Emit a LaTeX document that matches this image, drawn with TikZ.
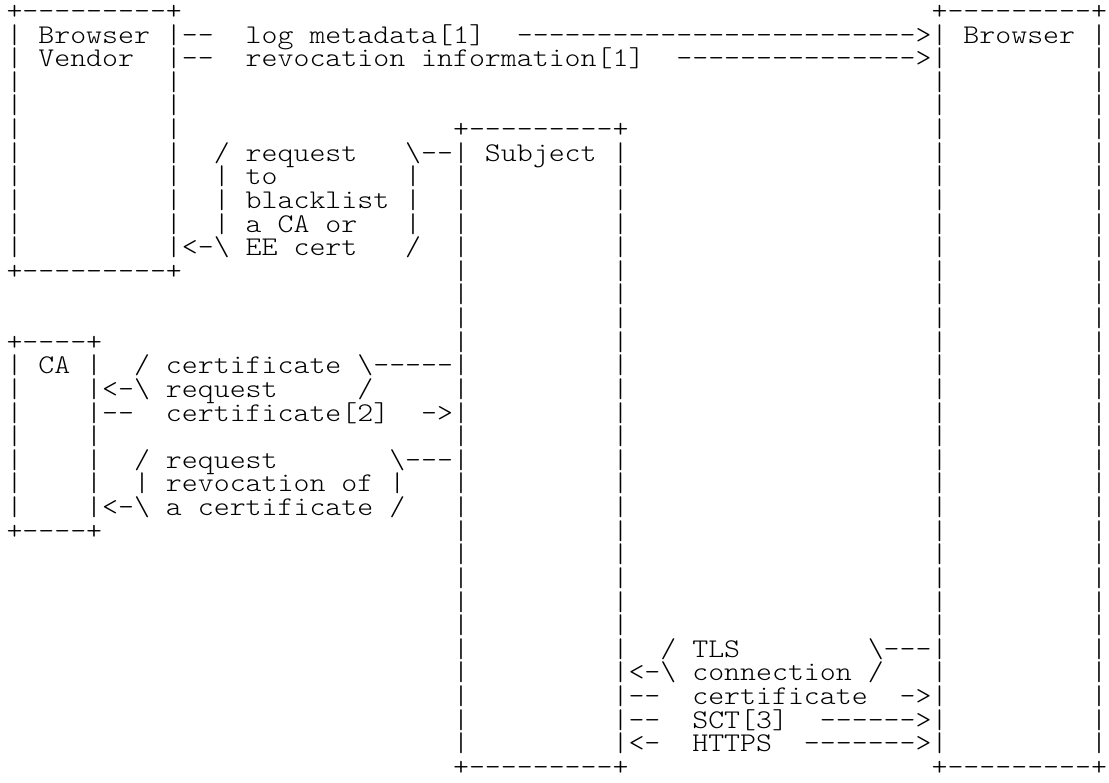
\documentclass[tikz,border=0pt]{standalone}
\usepackage{graphicx}
\usepackage{fontspec}
\newfontfamily\ascfont{lmmonolt10-regular}[Extension=.otf]
\ExplSyntaxOn
\cs_new:Npn \dashc #1 { \prg_replicate:nn {#1} { -\kern0pt } }
\ExplSyntaxOff
\newcommand\gapc[1]{\kern\dimexpr\fontcharwd\font`\x*#1\relax}
\newcommand\bslc{\textbackslash}
\newcommand\asctext[1]{\sbox0{x}\pgfmathsetmacro\ascsc{15.95/\the\wd0}\scalebox{\ascsc}[1]{#1}}
\tikzset{
  asc/.style={anchor=base west, inner sep=0pt, outer sep=0pt,
    font=\ascfont\fontsize{27}{27}\selectfont, text=black}
}
\begin{document}
\begin{tikzpicture}[x=1pt,y=1pt]
\useasboundingbox (0,0) rectangle (1109,-783);
\fill[white] (0,0) rectangle (1109,-783);
\def\xo{6.5}
\def\yo{19.5}
\def\dy{23.62}
\node[asc] (row0) at (\xo,-\yo-\dy*0) {\asctext{+\dashc{9}+\gapc{47}+\dashc{9}+}};
\node[asc] (row1) at (\xo,-\yo-\dy*1) {\asctext{|\gapc{1}Browser\gapc{1}|\dashc{2}\gapc{2}log\gapc{1}metadata[1]\gapc{2}\dashc{25}>|\gapc{1}Browser\gapc{1}|}};
\node[asc] (row2) at (\xo,-\yo-\dy*2) {\asctext{|\gapc{1}Vendor\gapc{2}|\dashc{2}\gapc{2}revocation\gapc{1}information[1]\gapc{2}\dashc{15}>|\gapc{9}|}};
\node[asc] (row3) at (\xo,-\yo-\dy*3) {\asctext{|\gapc{9}|\gapc{47}|\gapc{9}|}};
\node[asc] (row4) at (\xo,-\yo-\dy*4) {\asctext{|\gapc{9}|\gapc{47}|\gapc{9}|}};
\node[asc] (row5) at (\xo,-\yo-\dy*5) {\asctext{|\gapc{9}|\gapc{17}+\dashc{9}+\gapc{19}|\gapc{9}|}};
\node[asc] (row6) at (\xo,-\yo-\dy*6) {\asctext{|\gapc{9}|\gapc{2}/\gapc{1}request\gapc{3}\bslc\dashc{2}|\gapc{1}Subject\gapc{1}|\gapc{19}|\gapc{9}|}};
\node[asc] (row7) at (\xo,-\yo-\dy*7) {\asctext{|\gapc{9}|\gapc{2}|\gapc{1}to\gapc{8}|\gapc{2}|\gapc{9}|\gapc{19}|\gapc{9}|}};
\node[asc] (row8) at (\xo,-\yo-\dy*8) {\asctext{|\gapc{9}|\gapc{2}|\gapc{1}blacklist\gapc{1}|\gapc{2}|\gapc{9}|\gapc{19}|\gapc{9}|}};
\node[asc] (row9) at (\xo,-\yo-\dy*9) {\asctext{|\gapc{9}|\gapc{2}|\gapc{1}a\gapc{1}CA\gapc{1}or\gapc{3}|\gapc{2}|\gapc{9}|\gapc{19}|\gapc{9}|}};
\node[asc] (row10) at (\xo,-\yo-\dy*10) {\asctext{|\gapc{9}|<-\bslc\gapc{1}EE\gapc{1}cert\gapc{3}/\gapc{2}|\gapc{9}|\gapc{19}|\gapc{9}|}};
\node[asc] (row11) at (\xo,-\yo-\dy*11) {\asctext{+\dashc{9}+\gapc{17}|\gapc{9}|\gapc{19}|\gapc{9}|}};
\node[asc] (row12) at (\xo,-\yo-\dy*12) {\asctext{\gapc{28}|\gapc{9}|\gapc{19}|\gapc{9}|}};
\node[asc] (row13) at (\xo,-\yo-\dy*13) {\asctext{\gapc{28}|\gapc{9}|\gapc{19}|\gapc{9}|}};
\node[asc] (row14) at (\xo,-\yo-\dy*14) {\asctext{+\dashc{4}+\gapc{22}|\gapc{9}|\gapc{19}|\gapc{9}|}};
\node[asc] (row15) at (\xo,-\yo-\dy*15) {\asctext{|\gapc{1}CA\gapc{1}|\gapc{2}/\gapc{1}certificate\gapc{1}\bslc\dashc{5}|\gapc{9}|\gapc{19}|\gapc{9}|}};
\node[asc] (row16) at (\xo,-\yo-\dy*16) {\asctext{|\gapc{4}|<-\bslc\gapc{1}request\gapc{5}/\gapc{5}|\gapc{9}|\gapc{19}|\gapc{9}|}};
\node[asc] (row17) at (\xo,-\yo-\dy*17) {\asctext{|\gapc{4}|\dashc{2}\gapc{2}certificate[2]\gapc{2}->|\gapc{9}|\gapc{19}|\gapc{9}|}};
\node[asc] (row18) at (\xo,-\yo-\dy*18) {\asctext{|\gapc{4}|\gapc{22}|\gapc{9}|\gapc{19}|\gapc{9}|}};
\node[asc] (row19) at (\xo,-\yo-\dy*19) {\asctext{|\gapc{4}|\gapc{2}/\gapc{1}request\gapc{7}\bslc\dashc{3}|\gapc{9}|\gapc{19}|\gapc{9}|}};
\node[asc] (row20) at (\xo,-\yo-\dy*20) {\asctext{|\gapc{4}|\gapc{2}|\gapc{1}revocation\gapc{1}of\gapc{1}|\gapc{3}|\gapc{9}|\gapc{19}|\gapc{9}|}};
\node[asc] (row21) at (\xo,-\yo-\dy*21) {\asctext{|\gapc{4}|<-\bslc\gapc{1}a\gapc{1}certificate\gapc{1}/\gapc{3}|\gapc{9}|\gapc{19}|\gapc{9}|}};
\node[asc] (row22) at (\xo,-\yo-\dy*22) {\asctext{+\dashc{4}+\gapc{22}|\gapc{9}|\gapc{19}|\gapc{9}|}};
\node[asc] (row23) at (\xo,-\yo-\dy*23) {\asctext{\gapc{28}|\gapc{9}|\gapc{19}|\gapc{9}|}};
\node[asc] (row24) at (\xo,-\yo-\dy*24) {\asctext{\gapc{28}|\gapc{9}|\gapc{19}|\gapc{9}|}};
\node[asc] (row25) at (\xo,-\yo-\dy*25) {\asctext{\gapc{28}|\gapc{9}|\gapc{19}|\gapc{9}|}};
\node[asc] (row26) at (\xo,-\yo-\dy*26) {\asctext{\gapc{28}|\gapc{9}|\gapc{19}|\gapc{9}|}};
\node[asc] (row27) at (\xo,-\yo-\dy*27) {\asctext{\gapc{28}|\gapc{9}|\gapc{2}/\gapc{1}TLS\gapc{8}\bslc\dashc{3}|\gapc{9}|}};
\node[asc] (row28) at (\xo,-\yo-\dy*28) {\asctext{\gapc{28}|\gapc{9}|<-\bslc\gapc{1}connection\gapc{1}/\gapc{3}|\gapc{9}|}};
\node[asc] (row29) at (\xo,-\yo-\dy*29) {\asctext{\gapc{28}|\gapc{9}|\dashc{2}\gapc{2}certificate\gapc{2}->|\gapc{9}|}};
\node[asc] (row30) at (\xo,-\yo-\dy*30) {\asctext{\gapc{28}|\gapc{9}|\dashc{2}\gapc{2}SCT[3]\gapc{2}\dashc{6}>|\gapc{9}|}};
\node[asc] (row31) at (\xo,-\yo-\dy*31) {\asctext{\gapc{28}|\gapc{9}|<-\gapc{2}HTTPS\gapc{2}\dashc{7}>|\gapc{9}|}};
\node[asc] (row32) at (\xo,-\yo-\dy*32) {\asctext{\gapc{28}+\dashc{9}+\gapc{19}+\dashc{9}+}};
\end{tikzpicture}
\end{document}
